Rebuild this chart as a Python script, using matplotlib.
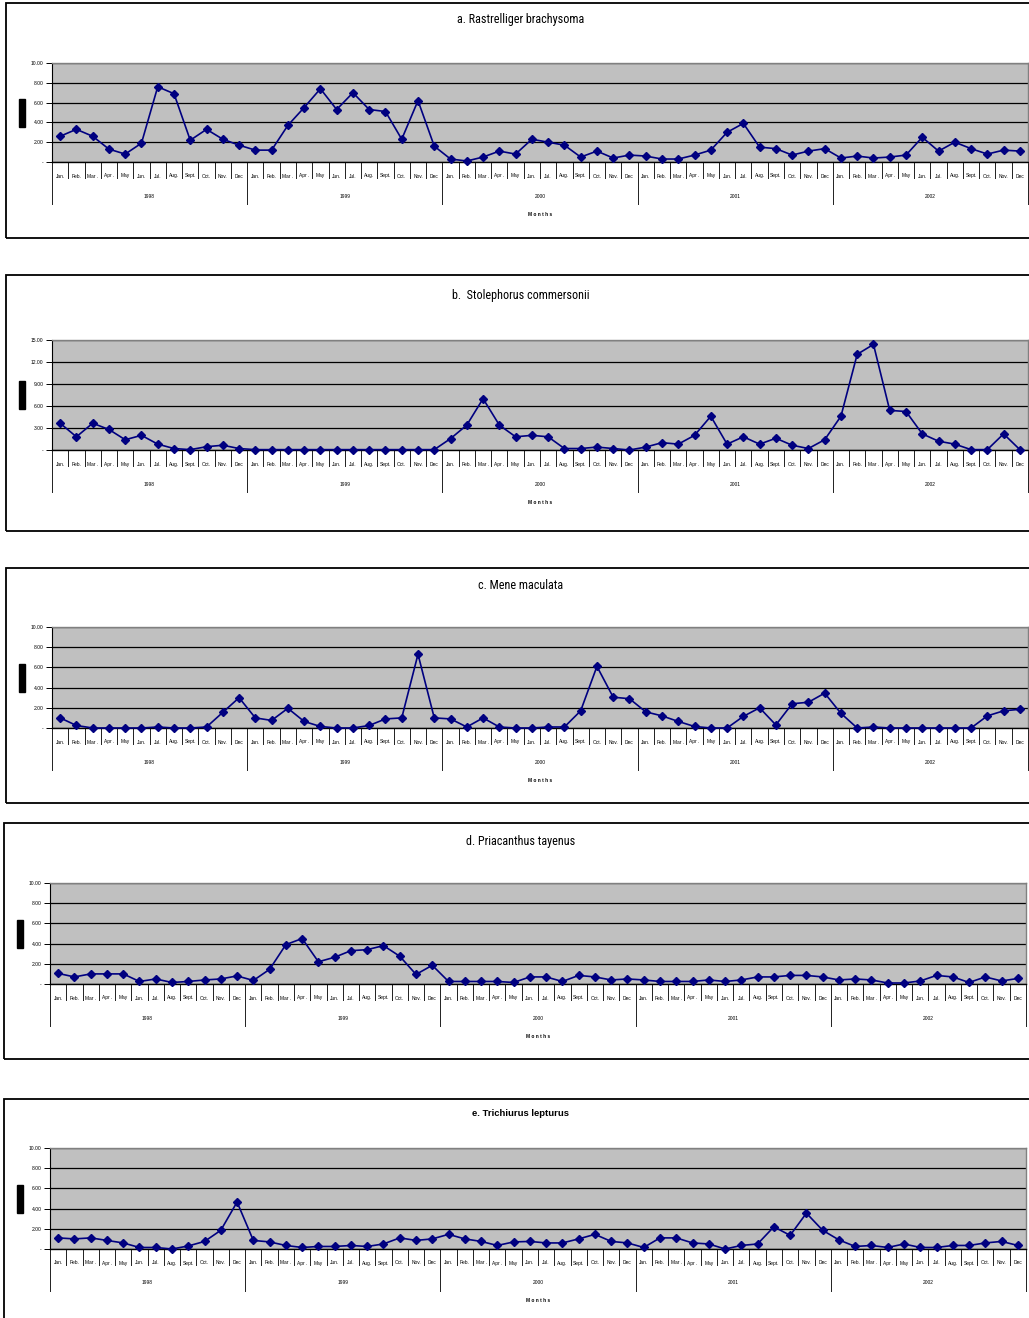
import numpy as np
import matplotlib
matplotlib.use("Agg")
import matplotlib.pyplot as plt
from matplotlib.patches import Rectangle
from matplotlib.transforms import blended_transform_factory
from matplotlib import font_manager

W, H = 1029, 1318

months = ["Jan.", "Feb.", "Mar .", "Apr .", "May", "Jun.", "Jul.", "Aug.",
          "Sept.", "Oct.", "Nov.", "Dec"]
years = ["1998", "1999", "2000", "2001", "2002"]

# monthly values, Jan 1998 .. Dec 2002
rastrelliger = [2.6, 3.3, 2.6, 1.3, 0.8, 1.9, 7.6, 6.9, 2.2, 3.3, 2.3, 1.7,
                1.2, 1.2, 3.7, 5.5, 7.4, 5.3, 7.0, 5.3, 5.1, 2.3, 6.2, 1.6,
                0.3, 0.1, 0.5, 1.1, 0.8, 2.3, 2.0, 1.7, 0.5, 1.1, 0.4, 0.7,
                0.6, 0.3, 0.3, 0.7, 1.2, 3.0, 3.9, 1.5, 1.35, 0.7, 1.1, 1.35,
                0.4, 0.6, 0.4, 0.5, 0.7, 2.5, 1.1, 2.0, 1.35, 0.8, 1.2, 1.1]
stolephorus = [3.65, 1.8, 3.65, 2.8, 1.4, 2.0, 0.8, 0.2, 0.05, 0.45, 0.65, 0.2,
               0.05, 0.05, 0.05, 0.05, 0.05, 0.05, 0.05, 0.05, 0.05, 0.05, 0.05, 0.05,
               1.55, 3.4, 7.0, 3.4, 1.8, 2.0, 1.8, 0.2, 0.2, 0.4, 0.2, 0.0,
               0.4, 1.0, 0.8, 2.0, 4.6, 0.8, 1.8, 0.8, 1.6, 0.65, 0.2, 1.4,
               4.6, 13.05, 14.4, 5.4, 5.25, 2.2, 1.2, 0.8, 0.05, 0.05, 2.2, 0.05]
mene = [1.0, 0.25, 0.0, 0.0, 0.0, 0.0, 0.1, 0.0, 0.0, 0.1, 1.55, 3.0,
        1.0, 0.75, 1.95, 0.65, 0.15, 0.0, 0.0, 0.25, 0.9, 1.0, 7.3, 1.0,
        0.9, 0.1, 1.0, 0.1, 0.0, 0.0, 0.1, 0.1, 1.7, 6.1, 3.05, 2.9,
        1.6, 1.2, 0.65, 0.15, 0.0, 0.0, 1.15, 2.0, 0.3, 2.4, 2.55, 3.45,
        1.45, 0.0, 0.1, 0.0, 0.0, 0.0, 0.0, 0.0, 0.0, 1.2, 1.7, 1.85]
priacanthus = [1.05, 0.7, 1.0, 1.0, 1.0, 0.25, 0.5, 0.15, 0.25, 0.4, 0.5, 0.8,
               0.35, 1.45, 3.9, 4.5, 2.2, 2.65, 3.3, 3.4, 3.8, 2.75, 0.95, 1.85,
               0.25, 0.25, 0.25, 0.25, 0.15, 0.7, 0.7, 0.25, 0.85, 0.7, 0.4, 0.5,
               0.4, 0.25, 0.25, 0.25, 0.4, 0.25, 0.4, 0.7, 0.7, 0.85, 0.85, 0.7,
               0.4, 0.5, 0.4, 0.1, 0.1, 0.3, 0.85, 0.7, 0.15, 0.7, 0.3, 0.55]
trichiurus = [1.1, 1.0, 1.1, 0.85, 0.6, 0.15, 0.15, 0.0, 0.3, 0.75, 1.85, 4.65,
              0.85, 0.7, 0.35, 0.15, 0.25, 0.25, 0.35, 0.25, 0.5, 1.1, 0.85, 1.0,
              1.45, 1.0, 0.75, 0.35, 0.7, 0.75, 0.6, 0.6, 1.0, 1.45, 0.75, 0.6,
              0.15, 1.1, 1.1, 0.6, 0.5, 0.0, 0.35, 0.5, 2.2, 1.35, 3.55, 1.85,
              0.9, 0.25, 0.35, 0.15, 0.5, 0.15, 0.15, 0.35, 0.35, 0.6, 0.75, 0.35]

series = [rastrelliger, stolephorus, mene, priacanthus, trichiurus]
titles = ["a. Rastrelliger brachysoma", "b.  Stolephorus commersonii",
          "c. Mene maculata", "d. Priacanthus tayenus", "e. Trichiurus lepturus"]
ymaxs = [10, 15, 10, 10, 10]
ysteps = [2, 3, 2, 2, 2]

# pixel layout: frame left, frame top, frame bottom, axes left, top, bottom, right, title y
layout = [
    (6, 3, 238, 52, 63, 162, 1028, 20),
    (6, 275, 531, 52, 340, 450, 1028, 295),
    (6, 568, 803, 52, 627, 728, 1028, 586),
    (4, 823, 1059, 50, 883, 984, 1026, 842),
    (4, 1099, 1322, 50, 1148, 1249, 1026, 1113),
]
title_x = 521

# pick a narrow face for the titles if one is around
installed = {f.name for f in font_manager.fontManager.ttflist}
narrow = [n for n in ["Liberation Sans Narrow", "DejaVu Sans Condensed",
                      "Roboto Condensed", "Open Sans Condensed"] if n in installed]
title_font = narrow + ["Liberation Sans", "DejaVu Sans"]
small_font = ["Liberation Sans", "DejaVu Sans"]
title_size = 8.7 if narrow else 7.8


def fx(x):
    return x / W


def fy(y):
    return 1 - y / H


fig = plt.figure(figsize=(W / 100, H / 100), dpi=100)

for i, vals in enumerate(series):
    fl, ft, fb, al, at, ab, ar, ty = layout[i]

    # outer chart frame (right edge runs off the picture)
    fig.add_artist(Rectangle((fx(fl), fy(fb)), fx(W + 20 - fl), fy(ft) - fy(fb),
                             transform=fig.transFigure, fill=False,
                             ec="black", lw=1.3))

    # title
    if i == 4:
        fig.text(fx(title_x), fy(ty), titles[i], ha="center", va="center",
                 fontsize=6.8, fontweight="bold", family=small_font)
    else:
        fig.text(fx(title_x), fy(ty), titles[i], ha="center", va="center",
                 fontsize=title_size, family=title_font, fontstretch="condensed")

    # black box where the y label sits
    fig.add_artist(Rectangle((fx(al - 33), fy((at + ab) / 2 + 14)), fx(6), 28 / H,
                             transform=fig.transFigure, color="black"))

    ax = fig.add_axes([fx(al), fy(ab), fx(ar - al), fy(at) - fy(ab)])
    ax.set_facecolor("#C0C0C0")

    x = np.arange(len(vals))
    ax.plot(x, vals, color="#000080", lw=1.2, marker="D", ms=4.4,
            mfc="#000080", mec="#000080", clip_on=False, zorder=4)

    ymax, step = ymaxs[i], ysteps[i]
    yt = np.arange(0, ymax + 0.1, step)
    ax.set_yticks(yt)
    ax.set_yticklabels(["-" if v == 0 else f"{v:.2f}" for v in yt],
                       fontsize=3.6, family=small_font)
    ax.tick_params(axis="y", length=4, width=0.7, pad=2)
    ax.set_xticks([])
    ax.yaxis.grid(True, color="black", lw=0.9)
    ax.set_axisbelow(True)
    for s in ["top", "right"]:
        ax.spines[s].set_color("#808080")
        ax.spines[s].set_linewidth(1.0)
    ax.spines["left"].set_linewidth(0.8)
    ax.spines["bottom"].set_linewidth(1.0)

    # two-level category axis drawn below the plot area
    tr = blended_transform_factory(ax.transData, fig.transFigure)
    for k in range(len(vals) + 1):
        xb = k - 0.5
        depth = 42 if k % 12 == 0 else 16
        ax.plot([xb, xb], [fy(ab), fy(ab + depth)], color="#202020", lw=0.7,
                transform=tr, clip_on=False)
    for k in range(len(vals)):
        ax.text(k, fy(ab + 14), months[k % 12], transform=tr, ha="center",
                va="center", fontsize=3.5, family=small_font)
    for k, yr in enumerate(years):
        ax.text(12 * k + 5.5, fy(ab + 34), yr, transform=tr, ha="center",
                va="center", fontsize=3.5, family=small_font)
    ax.text(29.5, fy(ab + 52), "M o n t h s", transform=tr, ha="center",
            va="center", fontsize=3.4, fontweight="bold", family=small_font)

    ax.set_xlim(-0.5, len(vals) - 0.5)
    ax.set_ylim(0, ymax)

fig.savefig("out.png", dpi=100)
